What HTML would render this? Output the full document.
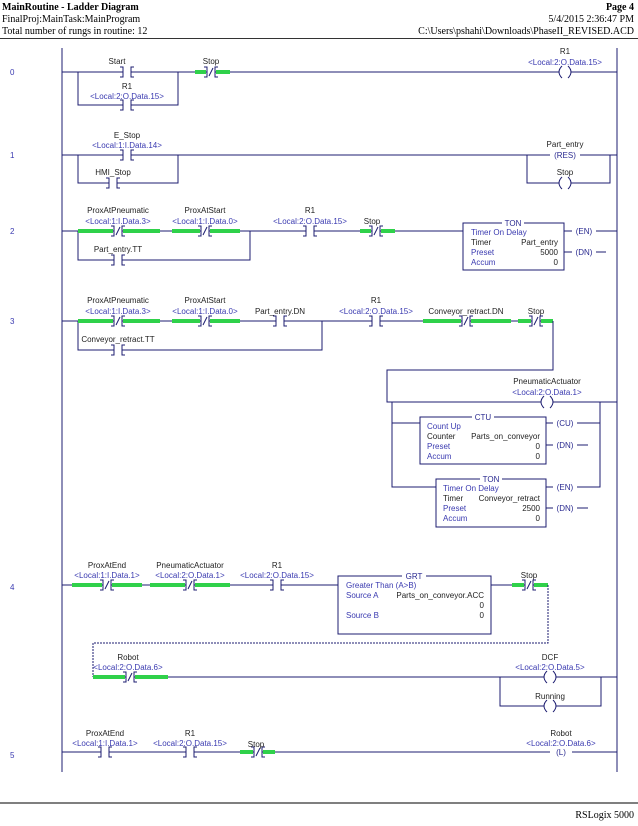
<!DOCTYPE html>
<html><head><meta charset="utf-8"><style>
html,body{margin:0;padding:0;background:#fff;}
svg{display:block;}
text{font-family:"Liberation Sans",sans-serif;font-size:8px;fill:#222;}
.t{fill:#3a3ab0;}
.h{font-family:"Liberation Serif",serif;font-size:10px;fill:#000;}
.hb{font-family:"Liberation Serif",serif;font-size:10px;font-weight:bold;fill:#000;}
.n{fill:#3a3ab0;font-size:8px;}
.w{stroke:#1c1c70;stroke-width:1;fill:none;}
.d{stroke:#1c1c70;stroke-width:1;fill:none;stroke-dasharray:2,1;}
.g{stroke:#2fd14a;stroke-width:4;fill:none;}
.c{fill:#2a2a90;font-size:8px;}
</style></head><body>
<svg width="638" height="826" viewBox="0 0 638 826" xmlns="http://www.w3.org/2000/svg">
<defs>
<g id="no"><rect x="-4" y="-6" width="8" height="12" fill="#fff"/><path d="M-7,-5H-4V5H-7M7,-5H4V5H7" stroke="#1c1c70" fill="none"/></g>
<g id="nc"><rect x="-4" y="-6" width="8" height="12" fill="#fff"/><path d="M-7,-5H-4V5H-7M7,-5H4V5H7M-2,4L2,-4" stroke="#1c1c70" fill="none"/></g>
<g id="coil"><rect x="-6" y="-6" width="12" height="12" fill="#fff"/><path d="M-3,-6Q-9,0 -3,6M3,-6Q9,0 3,6" stroke="#1c1c70" fill="none"/></g>
</defs>
<!-- header -->
<text x="2" y="10" class="hb">MainRoutine - Ladder Diagram</text>
<text x="2" y="22" class="h">FinalProj:MainTask:MainProgram</text>
<text x="2" y="34" class="h">Total number of rungs in routine: 12</text>
<text x="634" y="10" class="hb" text-anchor="end">Page 4</text>
<text x="634" y="22" class="h" text-anchor="end">5/4/2015 2:36:47 PM</text>
<text x="634" y="34" class="h" text-anchor="end">C:\Users\pshahi\Downloads\PhaseII_REVISED.ACD</text>
<line x1="0" y1="38.5" x2="638" y2="38.5" stroke="#333"/>
<line x1="0" y1="803" x2="638" y2="803" stroke="#555" stroke-width="1.5"/>
<text x="634" y="818" class="h" text-anchor="end">RSLogix 5000</text>
<!-- rails -->
<line x1="62" y1="48" x2="62" y2="772" class="w"/>
<line x1="617" y1="48" x2="617" y2="772" class="w"/>
<!-- rung numbers -->
<text x="10" y="75" class="n">0</text><text x="10" y="158" class="n">1</text><text x="10" y="234" class="n">2</text>
<text x="10" y="324" class="n">3</text><text x="10" y="590" class="n">4</text><text x="10" y="758" class="n">5</text>

<!-- Rung 0 -->
<line x1="62" y1="72" x2="617" y2="72" class="w"/>
<path d="M78,72V105H178V72" class="w"/>
<line x1="195" y1="72" x2="206" y2="72" class="g"/><line x1="216" y1="72" x2="230" y2="72" class="g"/>
<use href="#no" x="127" y="72"/><text x="117" y="64" text-anchor="middle">Start</text>
<use href="#no" x="127" y="105"/><text x="127" y="89" text-anchor="middle">R1</text><text x="127" y="99" text-anchor="middle" class="t">&lt;Local:2:O.Data.15&gt;</text>
<use href="#nc" x="211" y="72"/><text x="211" y="64" text-anchor="middle">Stop</text>
<use href="#coil" x="565" y="72"/><text x="565" y="54" text-anchor="middle">R1</text><text x="565" y="65" text-anchor="middle" class="t">&lt;Local:2:O.Data.15&gt;</text>

<!-- Rung 1 -->
<line x1="62" y1="155" x2="617" y2="155" class="w"/>
<path d="M78,155V183H178V155" class="w"/>
<use href="#no" x="127" y="155"/><text x="127" y="138" text-anchor="middle">E_Stop</text><text x="127" y="148" text-anchor="middle" class="t">&lt;Local:1:I.Data.14&gt;</text>
<use href="#no" x="113" y="183"/><text x="113" y="175" text-anchor="middle">HMI_Stop</text>
<path d="M527,155V183H610V155" class="w"/>
<rect x="550" y="149" width="30" height="12" fill="#fff"/><text x="565" y="158" text-anchor="middle" class="c">(RES)</text>
<text x="565" y="147" text-anchor="middle">Part_entry</text>
<use href="#coil" x="565" y="183"/><text x="565" y="175" text-anchor="middle">Stop</text>

<!-- Rung 2 -->
<line x1="62" y1="231" x2="463" y2="231" class="w"/>
<path d="M78,231V260H250V231" class="w"/>
<line x1="78" y1="231" x2="113" y2="231" class="g"/><line x1="123" y1="231" x2="160" y2="231" class="g"/>
<line x1="172" y1="231" x2="200" y2="231" class="g"/><line x1="210" y1="231" x2="240" y2="231" class="g"/>
<line x1="360" y1="231" x2="371" y2="231" class="g"/><line x1="381" y1="231" x2="395" y2="231" class="g"/>
<use href="#nc" x="118" y="231"/><text x="118" y="213" text-anchor="middle">ProxAtPneumatic</text><text x="118" y="224" text-anchor="middle" class="t">&lt;Local:1:I.Data.3&gt;</text>
<use href="#nc" x="205" y="231"/><text x="205" y="213" text-anchor="middle">ProxAtStart</text><text x="205" y="224" text-anchor="middle" class="t">&lt;Local:1:I.Data.0&gt;</text>
<use href="#no" x="310" y="231"/><text x="310" y="213" text-anchor="middle">R1</text><text x="310" y="224" text-anchor="middle" class="t">&lt;Local:2:O.Data.15&gt;</text>
<use href="#nc" x="376" y="231"/><text x="372" y="224" text-anchor="middle">Stop</text>
<use href="#no" x="118" y="260"/><text x="118" y="252" text-anchor="middle">Part_entry.TT</text>
<rect x="463" y="223" width="101" height="47" fill="#fff" stroke="#1c1c70"/>
<rect x="502" y="219" width="22" height="8" fill="#fff"/><text x="513" y="226" text-anchor="middle" class="c">TON</text>
<text x="471" y="235" class="t">Timer On Delay</text>
<text x="471" y="245">Timer</text><text x="558" y="245" text-anchor="end">Part_entry</text>
<text x="471" y="255" class="t">Preset</text><text x="558" y="255" text-anchor="end">5000</text>
<text x="471" y="265" class="t">Accum</text><text x="558" y="265" text-anchor="end">0</text>
<line x1="564" y1="231" x2="617" y2="231" class="w"/>
<rect x="572" y="225" width="24" height="12" fill="#fff"/><text x="584" y="234" text-anchor="middle" class="c">(EN)</text>
<line x1="564" y1="252" x2="606" y2="252" class="w"/>
<rect x="572" y="246" width="24" height="12" fill="#fff"/><text x="584" y="255" text-anchor="middle" class="c">(DN)</text>

<!-- Rung 3 -->
<line x1="62" y1="321" x2="553" y2="321" class="w"/>
<path d="M78,321V350H322V321" class="w"/>
<line x1="78" y1="321" x2="113" y2="321" class="g"/><line x1="123" y1="321" x2="160" y2="321" class="g"/>
<line x1="172" y1="321" x2="200" y2="321" class="g"/><line x1="210" y1="321" x2="240" y2="321" class="g"/>
<line x1="423" y1="321" x2="461" y2="321" class="g"/><line x1="471" y1="321" x2="511" y2="321" class="g"/>
<line x1="518" y1="321" x2="531" y2="321" class="g"/><line x1="541" y1="321" x2="553" y2="321" class="g"/>
<use href="#nc" x="118" y="321"/><text x="118" y="303" text-anchor="middle">ProxAtPneumatic</text><text x="118" y="314" text-anchor="middle" class="t">&lt;Local:1:I.Data.3&gt;</text>
<use href="#nc" x="205" y="321"/><text x="205" y="303" text-anchor="middle">ProxAtStart</text><text x="205" y="314" text-anchor="middle" class="t">&lt;Local:1:I.Data.0&gt;</text>
<use href="#no" x="280" y="321"/><text x="280" y="314" text-anchor="middle">Part_entry.DN</text>
<use href="#no" x="376" y="321"/><text x="376" y="303" text-anchor="middle">R1</text><text x="376" y="314" text-anchor="middle" class="t">&lt;Local:2:O.Data.15&gt;</text>
<use href="#nc" x="466" y="321"/><text x="466" y="314" text-anchor="middle">Conveyor_retract.DN</text>
<use href="#nc" x="536" y="321"/><text x="536" y="314" text-anchor="middle">Stop</text>
<use href="#no" x="118" y="350"/><text x="118" y="342" text-anchor="middle">Conveyor_retract.TT</text>
<path d="M553,321V370H387V402H617" class="w"/>
<path d="M392,402V487H436M392,423H420" class="w"/>
<path d="M546,423H600V402M546,487H600V423M546,445H588M546,508H588" class="w"/>
<use href="#coil" x="547" y="402"/><text x="547" y="384" text-anchor="middle">PneumaticActuator</text><text x="547" y="395" text-anchor="middle" class="t">&lt;Local:2:O.Data.1&gt;</text>
<rect x="420" y="417" width="126" height="47" fill="#fff" stroke="#1c1c70"/>
<rect x="472" y="413" width="22" height="8" fill="#fff"/><text x="483" y="420" text-anchor="middle" class="c">CTU</text>
<text x="427" y="429" class="t">Count Up</text>
<text x="427" y="439">Counter</text><text x="540" y="439" text-anchor="end">Parts_on_conveyor</text>
<text x="427" y="449" class="t">Preset</text><text x="540" y="449" text-anchor="end">0</text>
<text x="427" y="459" class="t">Accum</text><text x="540" y="459" text-anchor="end">0</text>
<rect x="553" y="417" width="24" height="12" fill="#fff"/><text x="565" y="426" text-anchor="middle" class="c">(CU)</text>
<rect x="553" y="439" width="24" height="12" fill="#fff"/><text x="565" y="448" text-anchor="middle" class="c">(DN)</text>
<rect x="436" y="479" width="110" height="48" fill="#fff" stroke="#1c1c70"/>
<rect x="480" y="475" width="22" height="8" fill="#fff"/><text x="491" y="482" text-anchor="middle" class="c">TON</text>
<text x="443" y="491" class="t">Timer On Delay</text>
<text x="443" y="501">Timer</text><text x="540" y="501" text-anchor="end">Conveyor_retract</text>
<text x="443" y="511" class="t">Preset</text><text x="540" y="511" text-anchor="end">2500</text>
<text x="443" y="521" class="t">Accum</text><text x="540" y="521" text-anchor="end">0</text>
<rect x="553" y="481" width="24" height="12" fill="#fff"/><text x="565" y="490" text-anchor="middle" class="c">(EN)</text>
<rect x="553" y="502" width="24" height="12" fill="#fff"/><text x="565" y="511" text-anchor="middle" class="c">(DN)</text>

<!-- Rung 4 -->
<line x1="62" y1="585" x2="338" y2="585" class="w"/>
<line x1="491" y1="585" x2="548" y2="585" class="w"/>
<line x1="72" y1="585" x2="102" y2="585" class="g"/><line x1="112" y1="585" x2="142" y2="585" class="g"/>
<line x1="150" y1="585" x2="185" y2="585" class="g"/><line x1="195" y1="585" x2="230" y2="585" class="g"/>
<line x1="512" y1="585" x2="524" y2="585" class="g"/><line x1="534" y1="585" x2="548" y2="585" class="g"/>
<use href="#nc" x="107" y="585"/><text x="107" y="568" text-anchor="middle">ProxAtEnd</text><text x="107" y="578" text-anchor="middle" class="t">&lt;Local:1:I.Data.1&gt;</text>
<use href="#nc" x="190" y="585"/><text x="190" y="568" text-anchor="middle">PneumaticActuator</text><text x="190" y="578" text-anchor="middle" class="t">&lt;Local:2:O.Data.1&gt;</text>
<use href="#no" x="277" y="585"/><text x="277" y="568" text-anchor="middle">R1</text><text x="277" y="578" text-anchor="middle" class="t">&lt;Local:2:O.Data.15&gt;</text>
<use href="#nc" x="529" y="585"/><text x="529" y="578" text-anchor="middle">Stop</text>
<rect x="338" y="576" width="153" height="58" fill="#fff" stroke="#1c1c70"/>
<rect x="402" y="572" width="24" height="8" fill="#fff"/><text x="414" y="579" text-anchor="middle" class="c">GRT</text>
<text x="346" y="588" class="t">Greater Than (A&gt;B)</text>
<text x="346" y="598" class="t">Source A</text><text x="484" y="598" text-anchor="end">Parts_on_conveyor.ACC</text>
<text x="484" y="608" text-anchor="end">0</text>
<text x="346" y="618" class="t">Source B</text><text x="484" y="618" text-anchor="end">0</text>
<path d="M548,585V643H93V677" class="d"/>
<line x1="93" y1="677" x2="617" y2="677" class="w"/>
<line x1="93" y1="677" x2="125" y2="677" class="g"/><line x1="135" y1="677" x2="168" y2="677" class="g"/>
<use href="#nc" x="130" y="677"/><text x="128" y="660" text-anchor="middle">Robot</text><text x="128" y="670" text-anchor="middle" class="t">&lt;Local:2:O.Data.6&gt;</text>
<path d="M500,677V706H601V677" class="w"/>
<use href="#coil" x="550" y="677"/><text x="550" y="660" text-anchor="middle">DCF</text><text x="550" y="670" text-anchor="middle" class="t">&lt;Local:2:O.Data.5&gt;</text>
<use href="#coil" x="550" y="706"/><text x="550" y="699" text-anchor="middle">Running</text>

<!-- Rung 5 -->
<line x1="62" y1="752" x2="617" y2="752" class="w"/>
<line x1="240" y1="752" x2="253" y2="752" class="g"/><line x1="263" y1="752" x2="275" y2="752" class="g"/>
<use href="#no" x="105" y="752"/><text x="105" y="736" text-anchor="middle">ProxAtEnd</text><text x="105" y="746" text-anchor="middle" class="t">&lt;Local:1:I.Data.1&gt;</text>
<use href="#no" x="190" y="752"/><text x="190" y="736" text-anchor="middle">R1</text><text x="190" y="746" text-anchor="middle" class="t">&lt;Local:2:O.Data.15&gt;</text>
<use href="#nc" x="258" y="752"/><text x="256" y="747" text-anchor="middle">Stop</text>
<rect x="550" y="746" width="22" height="12" fill="#fff"/><text x="561" y="755" text-anchor="middle" class="c">(L)</text>
<text x="561" y="736" text-anchor="middle">Robot</text><text x="561" y="746" text-anchor="middle" class="t">&lt;Local:2:O.Data.6&gt;</text>
</svg>
</body></html>
